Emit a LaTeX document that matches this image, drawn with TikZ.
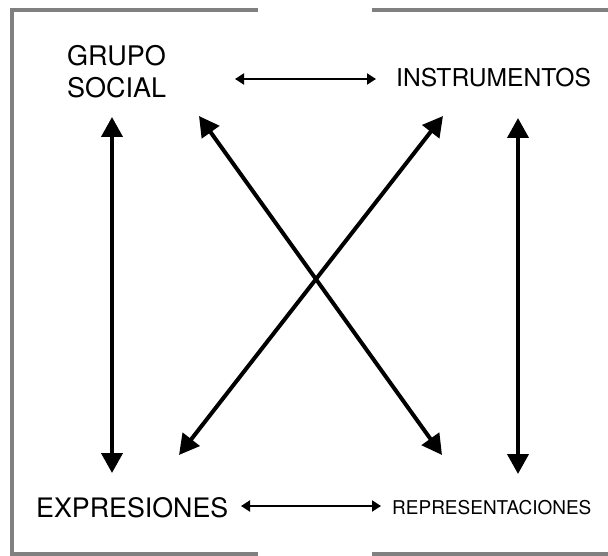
\documentclass[tikz,border=0pt]{standalone}
\usepackage{fontspec}
\setmainfont{TeX Gyre Heros}
\usetikzlibrary{arrows.meta}
\definecolor{framegray}{HTML}{808080}
\tikzset{
  frameline/.style={draw=framegray, line width=4pt},
  bigarrow/.style={line width=4pt, {Triangle[length=20pt,width=21pt]}-{Triangle[length=20pt,width=21pt]}},
  smallarrow/.style={line width=2pt, {Triangle[length=9pt,width=11pt]}-{Triangle[length=9pt,width=11pt]}},
  lbl/.style={inner sep=0pt, anchor=base west, align=left}
}
\begin{document}
\begin{tikzpicture}[x=1pt,y=-1pt]
\useasboundingbox (0,0) rectangle (608,556);
% frame
\draw[frameline] (258,10) -- (12,10) -- (12,554) -- (258,554);
\draw[frameline] (372,10) -- (610,10);
\draw[frameline] (372,554) -- (610,554);
% labels
\node[lbl, font=\fontsize{27}{32}\selectfont] (gs) at (67,98) {GRUPO\\SOCIAL};
\node[lbl, font=\fontsize{24.6}{30}\selectfont] (ins) at (396,87) {INSTRUMENTOS};
\node[lbl, font=\fontsize{26.8}{30}\selectfont] (exp) at (36,517) {EXPRESIONES};
\node[lbl, font=\fontsize{19}{24}\selectfont] (rep) at (392,514) {REPRESENTACIONES};
% arrow endpoints
\coordinate (lt) at (112,117);
\coordinate (lb) at (112,473);
\coordinate (rt) at (518,118);
\coordinate (rb) at (518,474);
\coordinate (d1a) at (199,116);
\coordinate (d1b) at (442,455);
\coordinate (d2a) at (443,116);
\coordinate (d2b) at (179,455);
\coordinate (ht1) at (235,79);
\coordinate (ht2) at (376,79);
\coordinate (hb1) at (241,506);
\coordinate (hb2) at (381,506);
% arrows
\draw[bigarrow] (lt) -- (lb);
\draw[bigarrow] (rt) -- (rb);
\draw[bigarrow] (d1a) -- (d1b);
\draw[bigarrow] (d2b) -- (d2a);
\draw[smallarrow] (ht1) -- (ht2);
\draw[smallarrow] (hb1) -- (hb2);
\end{tikzpicture}
\end{document}
